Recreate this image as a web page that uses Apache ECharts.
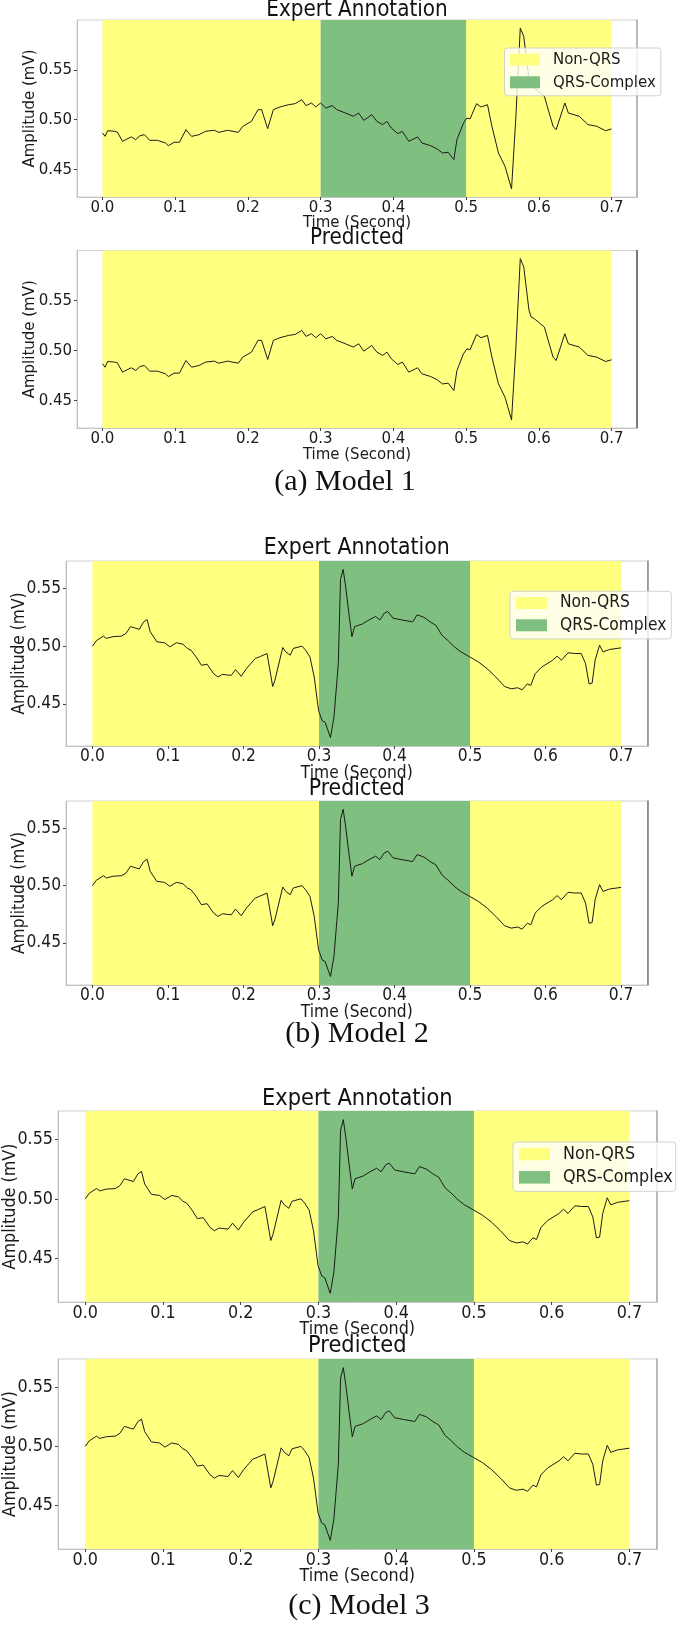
<!DOCTYPE html>
<html><head><meta charset="utf-8">
<script src="https://cdn.jsdelivr.net/npm/echarts@6/dist/echarts.min.js"></script>
<style>html,body{margin:0;padding:0;background:#fff}#c{width:685px;height:1625px}</style>
</head><body><div id="c"></div>
<script>
// ---------- DATA ----------
const model1Time = [0,0.0036,0.0072,0.0168,0.0204,0.0276,0.0337,0.0397,0.0457,0.0517,0.0577,0.0649,0.0757,0.0865,0.0907,0.0986,0.1058,0.1148,0.1226,0.1328,0.1418,0.1538,0.1599,0.1719,0.1869,0.1929,0.2049,0.2139,0.2188,0.2272,0.2350,0.2440,0.2560,0.2650,0.2740,0.2800,0.2873,0.2933,0.2999,0.3071,0.3161,0.3221,0.3341,0.3450,0.3522,0.3594,0.3702,0.3774,0.3852,0.3912,0.3972,0.4062,0.4123,0.4213,0.4333,0.4393,0.4513,0.4603,0.4675,0.4754,0.4832,0.4874,0.4964,0.5012,0.5054,0.5144,0.5204,0.5294,0.5355,0.5445,0.5535,0.5625,0.5685,0.5745,0.5793,0.5865,0.5895,0.5938,0.6076,0.6196,0.6238,0.6358,0.6406,0.6556,0.6677,0.6797,0.6917,0.7000];
const model1Amp = [0.4866,0.4832,0.4889,0.4883,0.4876,0.4782,0.4805,0.4826,0.4799,0.4839,0.4849,0.4792,0.4792,0.4765,0.4738,0.4772,0.4772,0.4899,0.4832,0.4849,0.4883,0.4893,0.4872,0.4893,0.4872,0.4933,0.4983,0.5101,0.5101,0.4909,0.5101,0.5128,0.5151,0.5161,0.5201,0.5141,0.5168,0.5128,0.5168,0.5117,0.5141,0.5101,0.5067,0.5034,0.5067,0.4993,0.5050,0.4983,0.4950,0.4983,0.4916,0.4859,0.4883,0.4782,0.4826,0.4765,0.4738,0.4705,0.4664,0.4671,0.4597,0.4799,0.4966,0.5017,0.5007,0.5161,0.5128,0.5151,0.4933,0.4664,0.4530,0.4302,0.5034,0.5923,0.5839,0.5403,0.5336,0.5319,0.5235,0.4933,0.4899,0.5168,0.5067,0.5034,0.4950,0.4933,0.4889,0.4906];

const model23Time = [0,0.0052,0.0145,0.0185,0.0272,0.0388,0.0446,0.0504,0.0620,0.0678,0.0724,0.0765,0.0852,0.0956,0.1025,0.1112,0.1199,0.1257,0.1304,0.1373,0.1443,0.1518,0.1605,0.1663,0.1721,0.1837,0.1895,0.1970,0.2039,0.2155,0.2213,0.2312,0.2387,0.2416,0.2520,0.2561,0.2619,0.2660,0.2775,0.2822,0.2880,0.2937,0.2995,0.3042,0.3082,0.3152,0.3198,0.3256,0.3285,0.3320,0.3355,0.3401,0.3436,0.3471,0.3575,0.3662,0.3749,0.3807,0.3865,0.3911,0.3981,0.4096,0.4241,0.4299,0.4386,0.4473,0.4548,0.4629,0.4705,0.4792,0.4879,0.4995,0.5110,0.5226,0.5342,0.5458,0.5545,0.5632,0.5690,0.5759,0.5805,0.5863,0.5950,0.6095,0.6153,0.6211,0.6298,0.6385,0.6472,0.6530,0.6576,0.6617,0.6657,0.6715,0.6761,0.6849,0.7000];
const model23Amp = [0.5000,0.5047,0.5087,0.5067,0.5082,0.5087,0.5111,0.5169,0.5146,0.5210,0.5230,0.5125,0.5038,0.5029,0.4994,0.5029,0.5017,0.4980,0.4965,0.4907,0.4834,0.4843,0.4761,0.4732,0.4755,0.4746,0.4796,0.4738,0.4805,0.4892,0.4907,0.4936,0.4650,0.4703,0.4988,0.4950,0.4921,0.4980,0.5000,0.4965,0.4907,0.4732,0.4440,0.4353,0.4338,0.4207,0.4382,0.4848,0.5577,0.5665,0.5504,0.5257,0.5082,0.5169,0.5192,0.5227,0.5257,0.5227,0.5286,0.5300,0.5242,0.5227,0.5210,0.5271,0.5251,0.5210,0.5181,0.5093,0.5050,0.4994,0.4950,0.4907,0.4863,0.4805,0.4732,0.4650,0.4630,0.4639,0.4621,0.4673,0.4659,0.4761,0.4819,0.4878,0.4913,0.4878,0.4942,0.4936,0.4936,0.4848,0.4673,0.4679,0.4878,0.5009,0.4950,0.4971,0.4985];

const expertNonQrs = [[0, 0.3], [0.5, 0.7]];
const expertQrs = [[0.3, 0.5]];
const model1PredNonQrs = [[0, 0.7]];
const model1PredQrs = [];
const model23PredNonQrs = [[0, 0.3], [0.5, 0.7]];
const model23PredQrs = [[0.3, 0.5]];

const xTicks = [0, 0.1, 0.2, 0.3, 0.4, 0.5, 0.6, 0.7];
const yTicks = [0.45, 0.50, 0.55];
const legendNames = ['Non-QRS', 'QRS-Complex'];
const xAxisName = 'Time (Second)';
const yAxisName = 'Amplitude (mV)';
const panelTitles = ['Expert Annotation', 'Predicted'];
const captions = ['(a) Model 1', '(b) Model 2', '(c) Model 3'];

// ---------- FONTS ----------
// The reference text is tall and narrow: use DejaVu Sans Condensed (if installed) at a size that keeps the widths.
function measure(font) {
  const c = document.createElement('canvas').getContext('2d');
  c.font = font; return c.measureText('Time (Second) Amplitude (mV) 0.55 Non-QRS').width;
}
let SANS = "'DejaVu Sans', sans-serif", K = 1;
{
  const wMono = measure("40px monospace");
  const wCond = measure("40px 'DejaVu Sans Condensed', monospace");
  if (Math.abs(wCond - wMono) > 1) {
    const wReg = measure("40px 'DejaVu Sans', monospace");
    SANS = "'DejaVu Sans Condensed', 'DejaVu Sans', sans-serif";
    K = wReg / wCond;
  }
}
const SERIF = "'Liberation Serif', 'Times New Roman', serif";

// ---------- STYLE / LAYOUT ----------
const YELLOW = '#ffff80', GREEN = '#7fbf7f';
function autoRange(arr) {   // matplotlib-like 5% margins
  const lo = Math.min(...arr), hi = Math.max(...arr), m = (hi - lo) * 0.05;
  return [lo - m, hi + m];
}
const xRange = [-0.035, 0.735];

// yC: centre x of y-axis name; xC: offset of x-axis name centre below axis
const panels = [
  {left:77, top:20,    width:560,   height:177,   t:model1Time,  a:model1Amp,  non:expertNonQrs,      qrs:expertQrs,      title:0, titleY:10,   fs:15,   tfs:20,   rs:'#aaaaaa', yC:30, xC:26,
   legend:{left:504.5, top:48, iw:30, ih:12, row:22.3, pad:[5.5,5,5,5.5]}},
  {left:77, top:250.5, width:560,   height:177.5, t:model1Time,  a:model1Amp,  non:model1PredNonQrs, qrs:model1PredQrs, title:1, titleY:238,  fs:15,   tfs:20,   rs:'#555555', yC:30, xC:27},
  {left:66, top:561,   width:581.5, height:185,   t:model23Time, a:model23Amp, non:expertNonQrs,      qrs:expertQrs,      title:0, titleY:548,  fs:15.5, tfs:20.5, rs:'#888888', yC:20, xC:27.5,
   legend:{left:510, top:591.3, iw:31, ih:12, row:22.3, pad:[5.7,5,5,6]}},
  {left:66, top:801,   width:581.5, height:184,   t:model23Time, a:model23Amp, non:model23PredNonQrs, qrs:model23PredQrs, title:1, titleY:789.5, fs:15.5, tfs:20.5, rs:'#777777', yC:20, xC:27.5},
  {left:58, top:1111,  width:598.6, height:191,   t:model23Time, a:model23Amp, non:expertNonQrs,      qrs:expertQrs,      title:0, titleY:1099, fs:16,   tfs:21,   rs:'#aaaaaa', yC:10, xC:27,
   legend:{left:513, top:1142, iw:31, ih:12.5, row:23, pad:[6,3,5,6]}},
  {left:58, top:1359,  width:598.6, height:190,   t:model23Time, a:model23Amp, non:model23PredNonQrs, qrs:model23PredQrs, title:1, titleY:1346, fs:16,   tfs:21,   rs:'#aaaaaa', yC:10, xC:27.5}
];
const captionPos = [[345, 482], [357, 1034], [359, 1606]];

// ---------- BUILD ----------
const grid = [], xAxis = [], yAxis = [], series = [], legend = [], graphic = [];
panels.forEach((p, i) => {
  const yr = autoRange(p.a);
  const f = p.fs * K, tf = p.tfs * K;
  grid.push({left:p.left, top:p.top, width:p.width, height:p.height, show:true, containLabel:false,
             outerBoundsMode:'none', borderColor:'#d0d0d0', borderWidth:1, backgroundColor:'transparent'});
  xAxis.push({type:'value', gridIndex:i, min:xRange[0], max:xRange[1],
    axisLine:{show:true, onZero:false, lineStyle:{color:'#c4c4c4', width:1}},
    axisTick:{show:true, customValues:xTicks, length:3, lineStyle:{color:'#444'}},
    axisLabel:{customValues:xTicks, formatter:v => v.toFixed(1), fontSize:f, fontFamily:SANS, color:'#1a1a1a', margin:2},
    splitLine:{show:false},
    name:xAxisName, nameLocation:'middle', nameGap:p.xC - f / 2, nameMoveOverlap:false,
    nameTextStyle:{fontSize:f, fontFamily:SANS, color:'#1a1a1a', lineHeight:f}});
  yAxis.push({type:'value', gridIndex:i, min:yr[0], max:yr[1],
    axisLine:{show:true, onZero:false, lineStyle:{color:'#bdbdbd', width:1}},
    axisTick:{show:true, customValues:yTicks, length:3, lineStyle:{color:'#444'}},
    axisLabel:{customValues:yTicks, formatter:v => v.toFixed(2), fontSize:f, fontFamily:SANS, color:'#1a1a1a', margin:5},
    splitLine:{show:false},
    name:yAxisName, nameLocation:'middle', nameGap:p.left - p.yC - f / 2, nameMoveOverlap:false,
    nameTextStyle:{fontSize:f, fontFamily:SANS, color:'#1a1a1a', lineHeight:f}});
  yAxis.push({type:'value', gridIndex:i, position:'right', min:yr[0], max:yr[1],
    axisLine:{show:true, onZero:false, lineStyle:{color:p.rs, width:1.5}},
    axisTick:{show:false}, axisLabel:{show:false}, splitLine:{show:false}});
  const yi = yAxis.length - 2;
  series.push({type:'line', name:legendNames[0], xAxisIndex:i, yAxisIndex:yi, data:[],
    color:YELLOW, itemStyle:{color:YELLOW}, silent:true, animation:false,
    markArea:{silent:true, itemStyle:{color:YELLOW, opacity:1}, data:p.non.map(s => [{xAxis:s[0]}, {xAxis:s[1]}])}});
  series.push({type:'line', name:legendNames[1], xAxisIndex:i, yAxisIndex:yi, data:[],
    color:GREEN, itemStyle:{color:GREEN}, silent:true, animation:false,
    markArea:{silent:true, itemStyle:{color:GREEN, opacity:1}, data:p.qrs.map(s => [{xAxis:s[0]}, {xAxis:s[1]}])}});
  series.push({type:'line', name:'ECG', xAxisIndex:i, yAxisIndex:yi, z:5,
    data:p.t.map((t, k) => [t, p.a[k]]), showSymbol:false, symbol:'none',
    lineStyle:{color:'#1c1c1c', width:1}, animation:false, silent:true});
  if (p.legend) {
    const L = p.legend, lh = Math.max(L.ih, f);
    legend.push({type:'plain', show:true, data:legendNames, orient:'vertical', left:L.left, top:L.top, icon:'rect',
      itemWidth:L.iw, itemHeight:L.ih, itemGap:L.row - lh, padding:[L.pad[0] + 6 - lh / 2, L.pad[1], L.pad[2], L.pad[3]],
      backgroundColor:'rgba(255,255,255,0.8)', borderColor:'rgba(200,200,200,0.8)', borderWidth:1, borderRadius:3,
      selectedMode:false, z:10,
      textStyle:{fontSize:f, fontFamily:SANS, color:'#1a1a1a', lineHeight:lh, padding:[0,0,0,8]}});
  }
  graphic.push({type:'text', x:p.left + p.width / 2, y:p.titleY, z:20,
    style:{text:panelTitles[p.title], fontSize:tf, fontFamily:SANS, fill:'#111', align:'center', verticalAlign:'middle'}});
});
captions.forEach((c, i) => {
  graphic.push({type:'text', x:captionPos[i][0], y:captionPos[i][1], z:20,
    style:{text:c, fontSize:30, fontFamily:SERIF, fill:'#111', align:'center', verticalAlign:'middle'}});
});

const chart = echarts.init(document.getElementById('c'), null, {renderer:'canvas'});
chart.setOption({animation:false, backgroundColor:'#fff', grid, xAxis, yAxis, series, legend, graphic});
</script></body></html>
